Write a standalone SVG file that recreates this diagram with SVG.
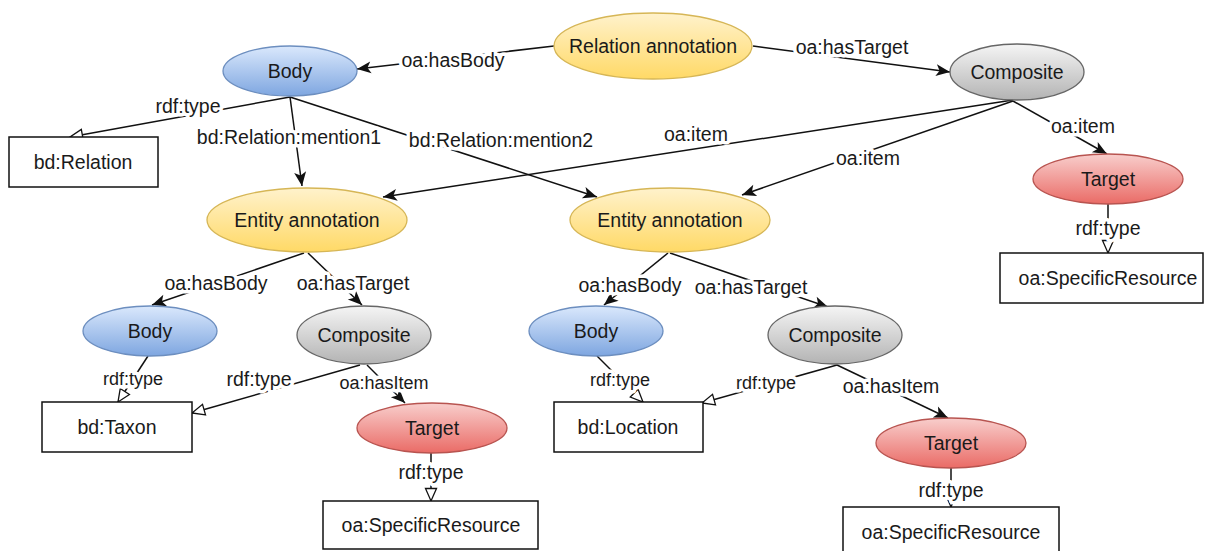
<svg xmlns="http://www.w3.org/2000/svg" width="1205" height="551" viewBox="0 0 1205 551">
<style>
text{font-family:"Liberation Sans",Arial,sans-serif;fill:#1a1a1a;text-anchor:middle;}
.n{font-size:19.5px;}
.l{font-size:19.5px;paint-order:stroke;stroke:#fff;stroke-width:7px;stroke-linejoin:round;}
.s{font-size:18px;}
.e{fill:none;stroke:#111;stroke-width:1.5;}
.f{marker-end:url(#arr);}
.h{marker-end:url(#tri);}
.box{fill:#fff;stroke:#111;stroke-width:1.5;}
</style>
<defs>
<linearGradient id="gy" x1="0" y1="0" x2="0" y2="1"><stop offset="0" stop-color="#fff2cc"/><stop offset="1" stop-color="#ffd966"/></linearGradient>
<linearGradient id="gb" x1="0" y1="0" x2="0" y2="1"><stop offset="0" stop-color="#dae8fc"/><stop offset="1" stop-color="#7ea6e0"/></linearGradient>
<linearGradient id="gg" x1="0" y1="0" x2="0" y2="1"><stop offset="0" stop-color="#f5f5f5"/><stop offset="1" stop-color="#b3b3b3"/></linearGradient>
<linearGradient id="gr" x1="0" y1="0" x2="0" y2="1"><stop offset="0" stop-color="#f8cecc"/><stop offset="1" stop-color="#ea6b66"/></linearGradient>
<marker id="arr" markerUnits="userSpaceOnUse" markerWidth="16" markerHeight="14" refX="14" refY="6" orient="auto" overflow="visible">
<path d="M0,0 L14,6 L0,12 L3.5,6 Z" fill="#111"/>
</marker>
<marker id="tri" markerUnits="userSpaceOnUse" markerWidth="16" markerHeight="14" refX="13" refY="6" orient="auto" overflow="visible">
<path d="M0.5,0.5 L13,6 L0.5,11.5 Z" fill="#fff" stroke="#111" stroke-width="1.3"/>
</marker>
</defs>

<g id="connectors">
<line class="e f" x1="554" y1="46" x2="357" y2="69"/>
<line class="e f" x1="753" y1="46" x2="950" y2="72"/>
<line class="e h" x1="290" y1="97" x2="70" y2="137"/>
<line class="e f" x1="290" y1="97" x2="302" y2="186"/>
<line class="e f" x1="290" y1="97" x2="597" y2="197"/>
<line class="e f" x1="1013" y1="100" x2="383" y2="197"/>
<line class="e f" x1="1013" y1="101" x2="742" y2="195"/>
<line class="e f" x1="1013" y1="101" x2="1107" y2="154"/>
<line class="e h" x1="1108" y1="204" x2="1108" y2="253"/>
<line class="e f" x1="304" y1="253" x2="152" y2="305"/>
<line class="e f" x1="308" y1="253" x2="362" y2="305"/>
<line class="e h" x1="148" y1="356" x2="118" y2="402"/>
<line class="e h" x1="360" y1="365" x2="192" y2="413"/>
<line class="e f" x1="367" y1="365" x2="405" y2="403"/>
<line class="e h" x1="431" y1="453" x2="431" y2="501"/>
<line class="e f" x1="668" y1="253" x2="604" y2="305"/>
<line class="e f" x1="670" y1="253" x2="828" y2="307"/>
<line class="e h" x1="597" y1="356" x2="643" y2="402"/>
<line class="e h" x1="837" y1="365" x2="702" y2="403"/>
<line class="e f" x1="837" y1="365" x2="948" y2="418"/>
<line class="e h" x1="951" y1="468" x2="951" y2="507"/>
<text class="l" x="453" y="60" dy="0.35em">oa:hasBody</text>
<text class="l" x="852" y="47" dy="0.35em">oa:hasTarget</text>
<text class="l" x="188" y="106" dy="0.35em">rdf:type</text>
<text class="l" x="289" y="137" dy="0.35em">bd:Relation:mention1</text>
<text class="l" x="501" y="140" dy="0.35em">bd:Relation:mention2</text>
<text class="l" x="696" y="134" dy="0.35em">oa:item</text>
<text class="l" x="868" y="158" dy="0.35em">oa:item</text>
<text class="l" x="1083" y="126" dy="0.35em">oa:item</text>
<text class="l" x="1108" y="228" dy="0.35em">rdf:type</text>
<text class="l" x="216" y="283" dy="0.35em">oa:hasBody</text>
<text class="l" x="353" y="283" dy="0.35em">oa:hasTarget</text>
<text class="l s" x="133" y="379" dy="0.35em">rdf:type</text>
<text class="l" x="259" y="379" dy="0.35em">rdf:type</text>
<text class="l s" x="384" y="383" dy="0.35em">oa:hasItem</text>
<text class="l" x="431" y="472" dy="0.35em">rdf:type</text>
<text class="l" x="630" y="285" dy="0.35em">oa:hasBody</text>
<text class="l" x="751" y="287" dy="0.35em">oa:hasTarget</text>
<text class="l s" x="620" y="380" dy="0.35em">rdf:type</text>
<text class="l s" x="766" y="383" dy="0.35em">rdf:type</text>
<text class="l" x="891" y="386" dy="0.35em">oa:hasItem</text>
<text class="l" x="951" y="490" dy="0.35em">rdf:type</text>
</g>

<g id="relation-annotation"><ellipse cx="653" cy="46" rx="99" ry="33" fill="url(#gy)" stroke="#d6b656" stroke-width="1.3"/><text class="n" x="653" y="46" dy="0.35em">Relation annotation</text></g>
<g id="body-top"><ellipse cx="290" cy="71" rx="67" ry="25" fill="url(#gb)" stroke="#6c8ebf" stroke-width="1.3"/><text class="n" x="290" y="71" dy="0.35em">Body</text></g>
<g id="composite-top"><ellipse cx="1017" cy="72" rx="67" ry="28" fill="url(#gg)" stroke="#666" stroke-width="1.3"/><text class="n" x="1017" y="72" dy="0.35em">Composite</text></g>
<g id="target-top"><ellipse cx="1108" cy="179" rx="75" ry="25" fill="url(#gr)" stroke="#b85450" stroke-width="1.3"/><text class="n" x="1108" y="179" dy="0.35em">Target</text></g>
<g id="specific-top"><rect class="box" x="1000" y="253" width="203" height="50"/><text class="n" x="1108" y="278" dy="0.35em">oa:SpecificResource</text></g>
<g id="bd-relation"><rect class="box" x="9" y="137" width="149" height="50"/><text class="n" x="83" y="162" dy="0.35em">bd:Relation</text></g>
<g id="entity-left"><ellipse cx="307" cy="220" rx="100" ry="32" fill="url(#gy)" stroke="#d6b656" stroke-width="1.3"/><text class="n" x="307" y="220" dy="0.35em">Entity annotation</text></g>
<g id="entity-right"><ellipse cx="670" cy="220" rx="100" ry="32" fill="url(#gy)" stroke="#d6b656" stroke-width="1.3"/><text class="n" x="670" y="220" dy="0.35em">Entity annotation</text></g>
<g id="body-left"><ellipse cx="150" cy="331" rx="67" ry="25" fill="url(#gb)" stroke="#6c8ebf" stroke-width="1.3"/><text class="n" x="150" y="331" dy="0.35em">Body</text></g>
<g id="composite-left"><ellipse cx="364" cy="335" rx="67" ry="29" fill="url(#gg)" stroke="#666" stroke-width="1.3"/><text class="n" x="364" y="335" dy="0.35em">Composite</text></g>
<g id="bd-taxon"><rect class="box" x="42" y="402" width="150" height="50"/><text class="n" x="117" y="427" dy="0.35em">bd:Taxon</text></g>
<g id="target-left"><ellipse cx="432" cy="428" rx="75" ry="25" fill="url(#gr)" stroke="#b85450" stroke-width="1.3"/><text class="n" x="432" y="428" dy="0.35em">Target</text></g>
<g id="specific-left"><rect class="box" x="323" y="501" width="215" height="48"/><text class="n" x="431" y="525" dy="0.35em">oa:SpecificResource</text></g>
<g id="body-right"><ellipse cx="596" cy="331" rx="67" ry="25" fill="url(#gb)" stroke="#6c8ebf" stroke-width="1.3"/><text class="n" x="596" y="331" dy="0.35em">Body</text></g>
<g id="composite-right"><ellipse cx="835" cy="335" rx="67" ry="29" fill="url(#gg)" stroke="#666" stroke-width="1.3"/><text class="n" x="835" y="335" dy="0.35em">Composite</text></g>
<g id="bd-location"><rect class="box" x="554" y="402" width="149" height="50"/><text class="n" x="628" y="427" dy="0.35em">bd:Location</text></g>
<g id="target-right"><ellipse cx="951" cy="443" rx="75" ry="25" fill="url(#gr)" stroke="#b85450" stroke-width="1.3"/><text class="n" x="951" y="443" dy="0.35em">Target</text></g>
<g id="specific-right"><rect class="box" x="843" y="507" width="216" height="50"/><text class="n" x="951" y="532" dy="0.35em">oa:SpecificResource</text></g>
</svg>
